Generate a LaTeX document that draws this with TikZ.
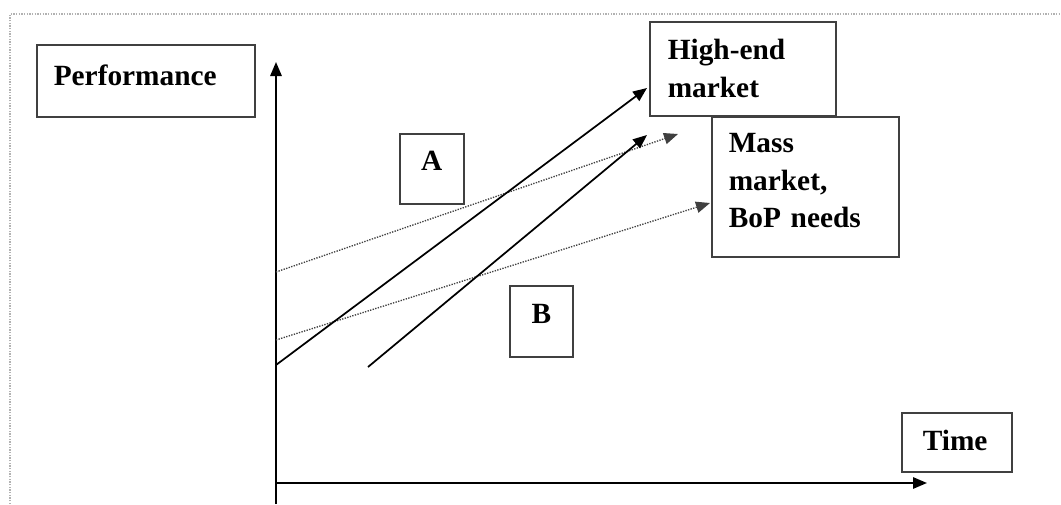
\documentclass[tikz,border=0pt]{standalone}
\usepackage{fontspec}
\setmainfont{Liberation Serif}
\usetikzlibrary{arrows.meta}

\begin{document}
\begin{tikzpicture}[x=0.75pt, y=-0.75pt,
    box/.style={draw=black!75, fill=white, line width=1.2pt, anchor=north west,
        inner ysep=0pt, align=left, font=\fontsize{22}{28}\selectfont\bfseries},
    axis/.style={line width=1.4pt, -{Triangle[length=10.5pt,width=8.5pt]}},
    trend/.style={line width=1.3pt, -{Triangle[length=10.5pt,width=8.5pt]}},
    need/.style={densely dotted, line width=1pt, black!75, -{Triangle[length=10.5pt,width=8.5pt]}}]
    \useasboundingbox (0,0) rectangle (1061,504);

    % frame
    \draw[densely dotted, gray!60, line width=1pt] (10,504) -- (10,14) -- (1061,14);

    % axes
    \coordinate (o) at (276,483);
    \coordinate (ytop) at (276,62);
    \coordinate (ybot) at (276,504);
    \coordinate (xend) at (927,483);
    \draw[axis] (ybot) -- (ytop);
    \draw[axis] (o) -- (xend);

    % needs (dotted)
    \coordinate (hn0) at (276,272);
    \coordinate (hn1) at (678,134);
    \coordinate (mn0) at (276,340);
    \coordinate (mn1) at (710,203);
    \draw[need] (hn0) -- (hn1);
    \draw[need] (mn0) -- (mn1);

    % technologies
    \coordinate (a0) at (276,365);
    \coordinate (a1) at (647,88);
    \coordinate (b0) at (368,367);
    \coordinate (b1) at (647,135);
    \draw[trend] (a0) -- (a1);
    \draw[trend] (b0) -- (b1);

    % boxes
    \node[box, inner xsep=12.75pt, text width=138pt, text height=30.75pt, text depth=23.25pt]
        (perf) at (36,44) {Performance};
    \node[box, inner xsep=13.5pt, text width=112.5pt, text height=28.5pt, text depth=42pt]
        (high) at (649,21) {High-end\\market};
    \node[box, inner xsep=12.75pt, text width=114.75pt, text height=27pt, text depth=78pt]
        (mass) at (711,116) {Mass\\market,\\BoP needs};
    \node[box, inner xsep=15.75pt, text width=51pt, text height=28.5pt, text depth=15.75pt]
        (time) at (901,412) {Time};
    \node[box, align=center, inner xsep=0pt, text width=48pt, text height=27.75pt, text depth=24.75pt]
        (lblA) at (399,133) {A};
    \node[box, align=center, inner xsep=0pt, text width=47.25pt, text height=28.5pt, text depth=24.75pt]
        (lblB) at (509,285) {B};
\end{tikzpicture}
\end{document}
